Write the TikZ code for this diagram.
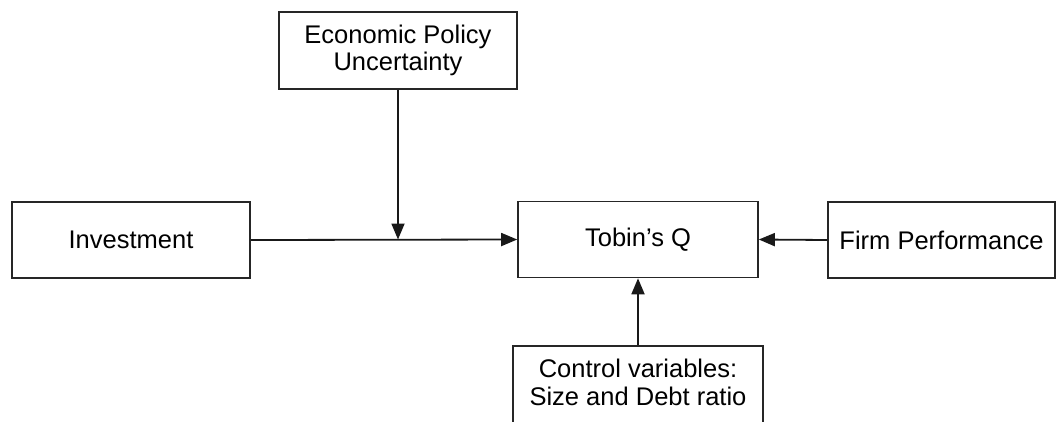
\documentclass[tikz,border=0pt]{standalone}
\usepackage{fontspec}
\setmainfont{Liberation Sans}
\usetikzlibrary{arrows.meta}
\tikzset{
  box/.style={draw=black!85, line width=1.6pt, rectangle, minimum height=76pt, inner sep=0pt, align=center},
  lbl/.style={inner sep=0pt, align=center},
  conn/.style={draw=black!90, line width=1.8pt},
  arr/.style={conn, -{Triangle[length=16pt,width=13pt]}},
}
\begin{document}
\begin{tikzpicture}[x=1pt,y=-1pt, font=\fontsize{25.5}{27.5}\selectfont]
\useasboundingbox (0,0) rectangle (1056,421);
\clip (0,0) rectangle (1056,421);
\node[box, minimum width=238pt, minimum height=77pt] (epu) at (398,50.5) {Economic Policy\\Uncertainty};
\node[box, minimum width=238pt] (inv) at (131,240) {Investment};
\node[box, minimum width=240pt] (tob) at (638,239.5) {Tobin’s Q};
\node[box, minimum width=227pt] (firm) at (941.5,240) {Firm Performance};
\node[box, minimum width=250pt, minimum height=90pt] (ctrl) at (638,391) {};
\node[lbl, anchor=north] (ctrltxt) at ([yshift=-14pt]ctrl.north) {Control variables:\\Size and Debt ratio};
\coordinate (join) at (epu.south |- tob.west);
\draw[arr] (inv.east) -- (tob.west);
\draw[arr] (epu.south) -- (join);
\draw[arr] (firm.west) -- (tob.east);
\draw[arr] (ctrl.north) -- (tob.south);
\end{tikzpicture}
\end{document}
